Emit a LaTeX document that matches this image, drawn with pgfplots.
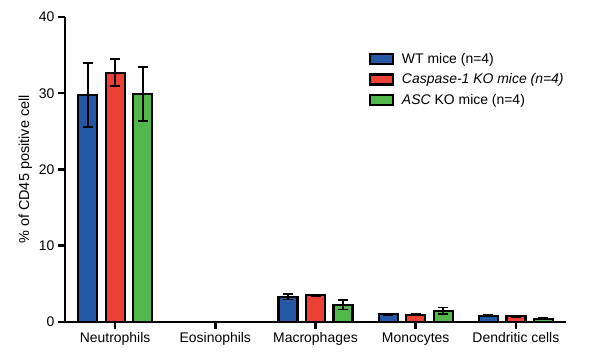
\documentclass[border=0pt]{standalone}
\usepackage{pgfplots}
\pgfplotsset{compat=1.18}
\usepackage{pgfplotstable}
\usepackage{fontspec}
\setmainfont{Liberation Sans}
\definecolor{wtblue}{RGB}{36,87,164}
\definecolor{casred}{RGB}{236,64,52}
\definecolor{ascgreen}{RGB}{82,183,75}
\pgfplotstableread{
x y e
0 29.8 4.2
1 0.05 0
2 3.3 0.35
3 1.0 0.05
4 0.83 0.05
}\wt
\pgfplotstableread{
x y e
0 32.7 1.8
1 0.05 0
2 3.5 0.1
3 0.95 0.05
4 0.74 0.05
}\cas
\pgfplotstableread{
x y e
0 29.9 3.5
1 0.05 0
2 2.25 0.6
3 1.45 0.45
4 0.43 0.05
}\asc
\begin{document}
\begin{tikzpicture}[font=\fontsize{14}{16}\selectfont]
\path[use as bounding box] (0,0) rectangle (590bp,360bp);
\begin{axis}[
  at={(65bp,38bp)}, anchor=south west,
  width=501bp, height=305bp, scale only axis,
  xmin=-0.5, xmax=4.5, ymin=0, ymax=40,
  axis x line=bottom, axis y line=left,
  axis line style={-, line width=2.5bp},
  ytick={0,10,20,30,40},
  xtick={0,1,2,3,4},
  xticklabels={Neutrophils,Eosinophils,Macrophages,Monocytes,Dendritic cells},
  tick style={line width=2.5bp, black},
  major tick length=7bp,
  tick align=outside,
  ylabel={\% of CD45 positive cell},
  ylabel style={font=\fontsize{14.5}{16}\selectfont},
  /pgf/number format/assume math mode=true,
  ybar, bar width=19bp,
  every axis plot/.append style={draw=black, line width=2.2bp},
  legend image code/.code={\draw[#1, draw=black, line width=2.2bp] (0bp,-5bp) rectangle (23bp,5bp); \path (29bp,0bp);},
  legend style={at={(rel axis cs:0.6,0.895)}, anchor=north west, draw=none, fill=none,
    row sep=5bp, cells={anchor=west}, font=\fontsize{14}{16}\selectfont},
]
\addplot[fill=wtblue, bar shift=-27.5bp, error bars/.cd, y dir=both, y explicit,
  error bar style={line width=1.8bp, black}, error mark options={rotate=90, mark size=5bp, line width=1.8bp, black}] table[x=x, y=y, y error=e] {\wt};
\addplot[fill=casred, bar shift=0bp, error bars/.cd, y dir=both, y explicit,
  error bar style={line width=1.8bp, black}, error mark options={rotate=90, mark size=5bp, line width=1.8bp, black}] table[x=x, y=y, y error=e] {\cas};
\addplot[fill=ascgreen, bar shift=27.5bp, error bars/.cd, y dir=both, y explicit,
  error bar style={line width=1.8bp, black}, error mark options={rotate=90, mark size=5bp, line width=1.8bp, black}] table[x=x, y=y, y error=e] {\asc};
\legend{WT mice (n=4), \textit{Caspase-1 KO mice (n=4)}, \textit{ASC} KO mice (n=4)}
\end{axis}
\end{tikzpicture}
\end{document}
